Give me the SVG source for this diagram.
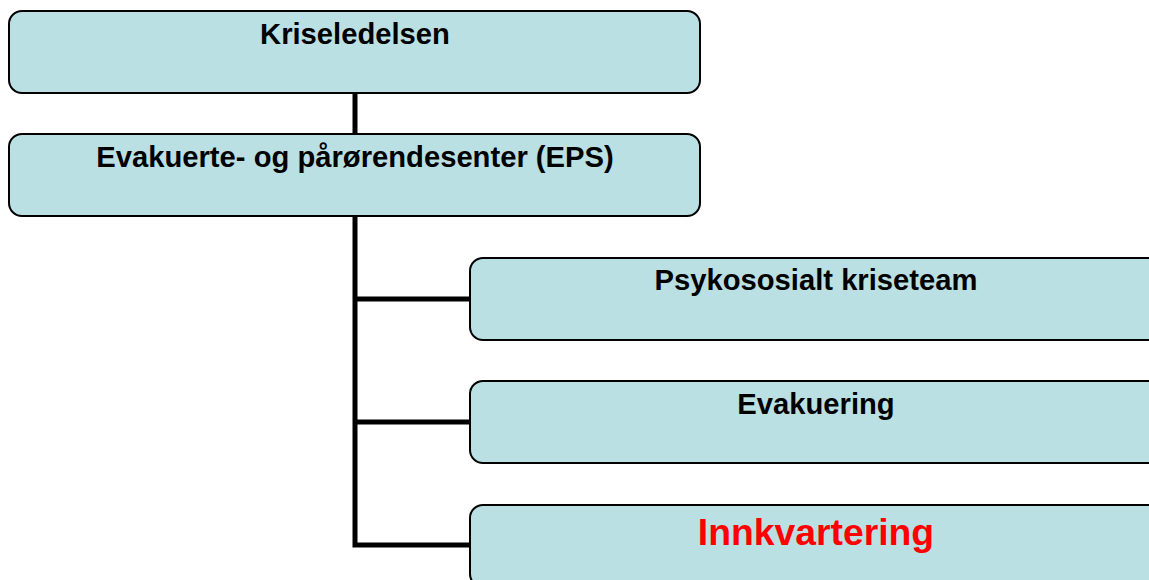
<svg xmlns="http://www.w3.org/2000/svg" width="1149" height="580" viewBox="0 0 1149 580">
<style>
.box{fill:#BAE0E3;stroke:#000;stroke-width:2}
.lbl{font-family:"Liberation Sans",Arial,sans-serif;font-weight:bold;font-size:29.2px;fill:#000;text-anchor:middle}
.red{fill:#FF0000;font-size:37.3px}
.conn{stroke:#000;stroke-width:5;fill:none}
</style>
<rect width="1149" height="580" fill="#fff"/>
<g id="connectors">
<line class="conn" x1="355" y1="93" x2="355" y2="135"/>
<polyline class="conn" points="355,216 355,545 471,545"/>
<line class="conn" x1="355" y1="299" x2="471" y2="299"/>
<line class="conn" x1="355" y1="422" x2="471" y2="422"/>
</g>
<g id="kriseledelsen">
<rect class="box" x="9" y="11" width="691" height="82" rx="13"/>
<text class="lbl" x="355" y="44">Kriseledelsen</text>
</g>
<g id="eps">
<rect class="box" x="9" y="134" width="691" height="82" rx="13"/>
<text class="lbl" x="355" y="167">Evakuerte- og pårørendesenter (EPS)</text>
</g>
<g id="psykososialt">
<rect class="box" x="470" y="258" width="692" height="82" rx="13"/>
<text class="lbl" x="816" y="290">Psykososialt kriseteam</text>
</g>
<g id="evakuering">
<rect class="box" x="470" y="381" width="692" height="82" rx="13"/>
<text class="lbl" x="816" y="414">Evakuering</text>
</g>
<g id="innkvartering">
<rect class="box" x="470" y="505" width="692" height="82" rx="13"/>
<text class="lbl red" x="816" y="545">Innkvartering</text>
</g>
</svg>
